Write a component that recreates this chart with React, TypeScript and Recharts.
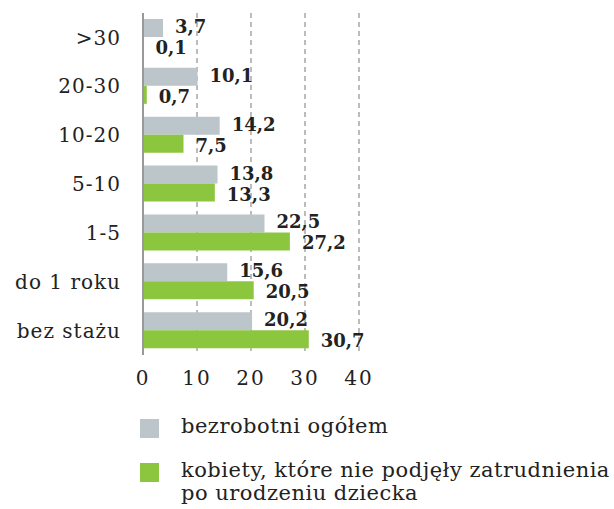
import React from "react";
import { Bar, BarChart, CartesianGrid, LabelList, XAxis, YAxis } from "recharts";

const categories = [">30", "20-30", "10-20", "5-10", "1-5", "do 1 roku", "bez stażu"];
const ogolem = [3.7, 10.1, 14.2, 13.8, 22.5, 15.6, 20.2];
const kobiety = [0.1, 0.7, 7.5, 13.3, 27.2, 20.5, 30.7];
const xTicks = [0, 10, 20, 30, 40];

const series = [
  { key: "ogolem", name: "bezrobotni ogółem", color: "#bcc6ca", dy: -1 },
  { key: "kobiety", name: "kobiety, które nie podjęły zatrudnienia\npo urodzeniu dziecka", color: "#8cc63f", dy: 2 },
];

const data = categories.map((name, i) => ({ name, ogolem: ogolem[i], kobiety: kobiety[i] }));

const FONT = "'DejaVu Serif', serif";
const fmt = (v: any) => String(v).replace(".", ",");

const makeLabel = (dy: number) => (props: any) => {
  const { x, y, width, height, value } = props;
  return (
    <text
      x={Number(x) + Number(width) + 12}
      y={Number(y) + Number(height) / 2 + dy + 6}
      fontFamily={FONT}
      fontSize={18}
      fontWeight="bold"
      fill="#222"
    >
      {fmt(value)}
    </text>
  );
};

const App = () => {
  return (
    <div style={{ position: "absolute", left: 0, top: 0, width: 614, height: 509, background: "#fff" }}>
      <BarChart
        layout="vertical"
        width={614}
        height={509}
        data={data}
        margin={{ top: 13, right: 255, left: 0, bottom: 114 }}
        barGap={0}
        barSize={18}
      >
        <CartesianGrid horizontal={false} stroke="#999" strokeDasharray="5 4" strokeWidth={1.3} />
        <XAxis
          type="number"
          domain={[0, 40]}
          ticks={xTicks}
          axisLine={false}
          tickLine={false}
          height={40}
          tickMargin={10}
          tick={{ fontFamily: FONT, fontSize: 20, fill: "#222", letterSpacing: 2 }}
        />
        <YAxis
          type="category"
          dataKey="name"
          width={143}
          axisLine={{ stroke: "#999", strokeWidth: 2 }}
          tickLine={false}
          tickMargin={16}
          tick={{ fontFamily: FONT, fontSize: 20, fill: "#222", letterSpacing: 1 }}
        />
        {series.map((s) => (
          <Bar key={s.key} dataKey={s.key} fill={s.color} isAnimationActive={false}>
            <LabelList dataKey={s.key} content={makeLabel(s.dy)} />
          </Bar>
        ))}
      </BarChart>
      {series.map((s, i) => (
        <div key={s.key} style={{ position: "absolute", left: 140, top: 419 + i * 44, display: "flex", alignItems: "flex-start" }}>
          <div style={{ width: 19, height: 19, background: s.color }} />
          <div
            style={{
              marginLeft: 22,
              marginTop: -4,
              fontFamily: FONT,
              fontSize: 21,
              letterSpacing: 0.5,
              lineHeight: "23px",
              color: "#222",
              whiteSpace: "pre",
            }}
          >
            {s.name}
          </div>
        </div>
      ))}
    </div>
  );
};

export default App;
